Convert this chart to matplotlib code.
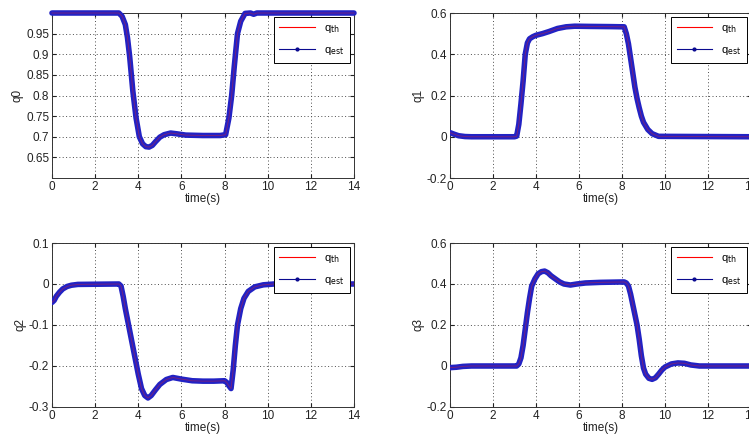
import numpy as np
import matplotlib.pyplot as plt
from matplotlib.lines import Line2D

# time axes (s) and quaternion components
t0 = [0, 3.1, 3.25, 3.4, 3.5, 3.6, 3.75, 3.9, 4.05, 4.2, 4.35, 4.5, 4.65, 4.8, 5.0, 5.2,
      5.5, 5.8, 6.2, 7.0, 7.8, 8.05, 8.2, 8.33, 8.45, 8.6, 8.75, 8.95, 9.2, 9.35, 9.5, 14]
q0 = [1.0, 1.0, 0.992, 0.972, 0.94, 0.895, 0.81, 0.745, 0.70, 0.683, 0.676, 0.675, 0.679,
      0.688, 0.699, 0.705, 0.709, 0.707, 0.704, 0.703, 0.703, 0.705, 0.745, 0.80, 0.87,
      0.95, 0.98, 0.999, 1.0, 0.997, 1.0, 1.0]

t1 = [0, 0.2, 0.4, 0.7, 1.0, 3.0, 3.1, 3.2, 3.3, 3.4, 3.5, 3.6, 3.7, 3.85, 4.0, 4.3, 4.6,
      5.0, 5.4, 5.8, 6.5, 7.5, 8.1, 8.2, 8.3, 8.4, 8.5, 8.6, 8.7, 8.8, 8.9, 9.0, 9.2, 9.4,
      9.7, 14]
q1 = [0.02, 0.012, 0.005, 0.001, 0.0, 0.0, 0.003, 0.06, 0.16, 0.27, 0.40, 0.455, 0.475,
      0.485, 0.492, 0.5, 0.51, 0.525, 0.533, 0.536, 0.535, 0.534, 0.533, 0.50, 0.45, 0.38,
      0.31, 0.24, 0.185, 0.14, 0.10, 0.07, 0.035, 0.015, 0.002, 0.0]

t2 = [0, 0.1, 0.2, 0.35, 0.5, 0.7, 0.9, 1.2, 3.1, 3.2, 3.3, 3.4, 3.55, 3.7, 3.85, 4.0,
      4.15, 4.3, 4.45, 4.6, 4.8, 5.0, 5.3, 5.6, 6.0, 6.5, 7.0, 7.5, 8.0, 8.1, 8.2, 8.3,
      8.4, 8.5, 8.6, 8.75, 8.9, 9.1, 9.4, 9.8, 10.3, 14]
q2 = [-0.045, -0.04, -0.03, -0.02, -0.012, -0.006, -0.003, -0.001, 0.0, -0.005, -0.03,
      -0.06, -0.1, -0.14, -0.18, -0.22, -0.255, -0.272, -0.278, -0.272, -0.258, -0.245,
      -0.233, -0.228, -0.232, -0.236, -0.237, -0.237, -0.236, -0.24, -0.248, -0.255,
      -0.21, -0.15, -0.1, -0.06, -0.035, -0.018, -0.007, -0.002, 0.0, 0.0]

t3 = [0, 0.3, 0.6, 1.0, 3.1, 3.2, 3.3, 3.4, 3.5, 3.6, 3.7, 3.8, 3.95, 4.1, 4.25, 4.4,
      4.55, 4.7, 4.9, 5.1, 5.3, 5.6, 5.9, 6.3, 7.0, 8.1, 8.2, 8.3, 8.4, 8.5, 8.6, 8.7,
      8.8, 8.9, 9.0, 9.1, 9.25, 9.4, 9.55, 9.7, 9.85, 10.0, 10.3, 10.6, 10.9, 11.2, 11.6, 14]
q3 = [-0.008, -0.006, -0.002, 0.0, 0.0, 0.01, 0.04, 0.1, 0.18, 0.26, 0.33, 0.39, 0.425,
      0.45, 0.46, 0.463, 0.455, 0.44, 0.425, 0.41, 0.4, 0.395, 0.4, 0.405, 0.408, 0.41,
      0.405, 0.39, 0.35, 0.30, 0.25, 0.20, 0.13, 0.05, -0.01, -0.04, -0.06, -0.065,
      -0.058, -0.04, -0.02, -0.005, 0.01, 0.015, 0.013, 0.005, 0.0, 0.0]

names = ['q0', 'q1', 'q2', 'q3']
ylims = [(0.6, 1.0), (-0.2, 0.6), (-0.3, 0.1), (-0.2, 0.6)]
yticks = [[0.65, 0.7, 0.75, 0.8, 0.85, 0.9, 0.95], [-0.2, 0, 0.2, 0.4, 0.6],
          [-0.3, -0.2, -0.1, 0, 0.1], [-0.2, 0, 0.2, 0.4, 0.6]]
xticks = [0, 2, 4, 6, 8, 10, 12, 14]

plt.rcParams['font.family'] = ['Liberation Sans', 'DejaVu Sans']
plt.rcParams['font.size'] = 8.5

fig = plt.figure(figsize=(7.49, 4.38), dpi=100)
# axes boxes in figure fraction; right column runs slightly past the cropped edge
boxes = [[0.0694, 0.5936, 0.4032, 0.3767], [0.6008, 0.5936, 0.4019, 0.3767],
         [0.0694, 0.0708, 0.4032, 0.3744], [0.6008, 0.0708, 0.4019, 0.3744]]

data = [(t0, q0), (t1, q1), (t2, q2), (t3, q3)]
for i in range(4):
    ax = fig.add_axes(boxes[i])
    t, q = data[i]
    clip = (i != 0)
    ax.plot(t, q, color='#2222c4', lw=4.0, solid_capstyle='round', clip_on=clip, zorder=3)
    ax.plot(t, q, color='#c02040', lw=0.7, alpha=0.5, clip_on=clip, zorder=4)
    ax.set_xlim(0, 14)
    ax.set_ylim(*ylims[i])
    ax.set_xticks(xticks)
    ax.set_yticks(yticks[i])
    ax.set_yticklabels([('%g' % v) for v in yticks[i]])
    ax.grid(True, ls=(0, (1, 2.5)), color='0.3', lw=0.7)
    ax.tick_params(direction='in', length=3, top=True, right=True, pad=2,
                   labelsize=8.5, colors='#222222')
    ax.set_xlabel('time(s)', labelpad=0, color='#222222')
    ax.set_ylabel(names[i], labelpad=2, color='#222222')
    for s in ax.spines.values():
        s.set_linewidth(0.7)
        s.set_color('#333333')
    handles = [Line2D([], [], color='red', lw=0.8),
               Line2D([], [], color='#0a0a90', lw=0.8, marker='.', markersize=4)]
    leg = ax.legend(handles, ['q$_{\\mathrm{th}}$', 'q$_{\\mathrm{est}}$'],
                    loc='upper right', fancybox=False, edgecolor='k', framealpha=1,
                    borderaxespad=0.4, handlelength=3.2, fontsize=8, borderpad=0.5,
                    labelspacing=0.9)
    leg.get_frame().set_linewidth(0.7)
    leg.set_zorder(10)

fig.savefig('out.png', dpi=100)
